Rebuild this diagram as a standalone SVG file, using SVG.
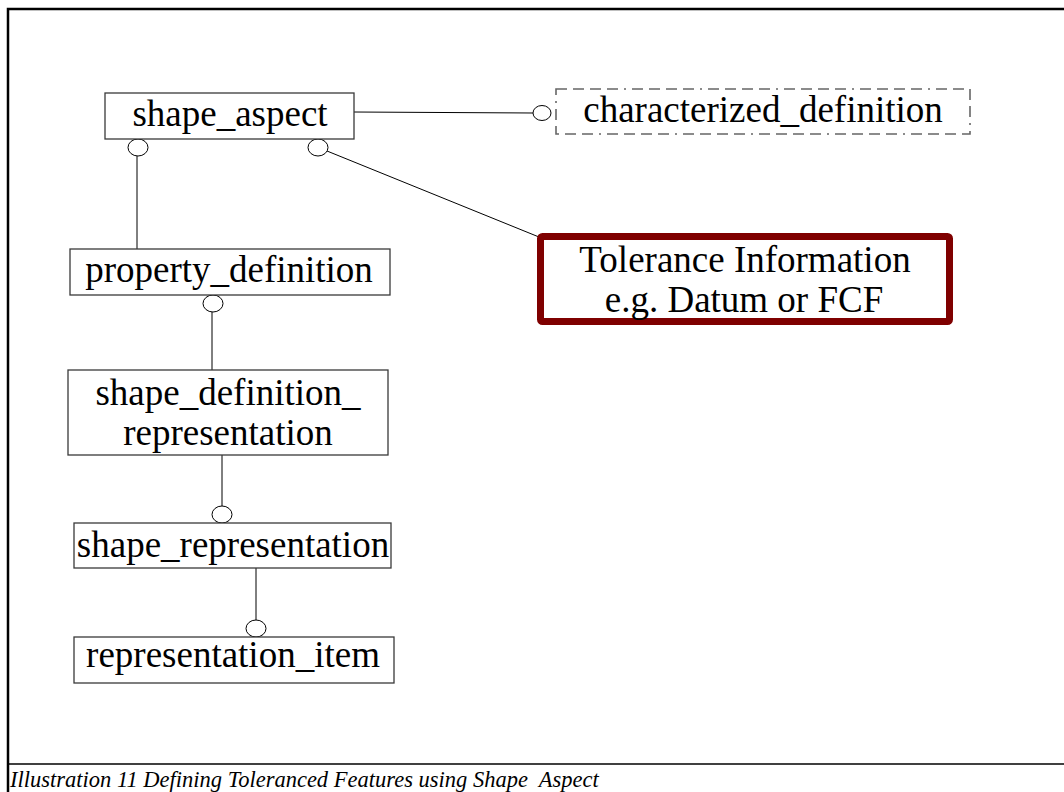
<svg xmlns="http://www.w3.org/2000/svg" width="1064" height="792" viewBox="0 0 1064 792">
<style>
.box{fill:#fff;stroke:#3a3a3a;stroke-width:1.3}
.dbox{fill:#fff;stroke:#666;stroke-width:1.6;stroke-dasharray:11 6 11 6 11 6 11 6 2 6}
.tol{fill:#fff;stroke:#7f0000;stroke-width:7}
.t{font-family:"Liberation Serif","Times New Roman",serif;font-size:37px;fill:#000;text-anchor:middle}
.c{fill:#fff;stroke:#000;stroke-width:1}
.ln{stroke:#000;stroke-width:1;fill:none}
.cap{font-family:"Liberation Serif","Times New Roman",serif;font-size:22.5px;font-style:italic;fill:#000}
</style>
<rect width="1064" height="792" fill="#fff"/>
<g id="frame">
<path d="M8 792 V9 H1064" fill="none" stroke="#000" stroke-width="2.5"/>
<line x1="8" y1="764" x2="1064" y2="764" stroke="#000" stroke-width="1.6"/>
</g>
<g id="connectors">
<line class="ln" x1="137" y1="156" x2="137" y2="249"/>
<line class="ln" x1="212" y1="312" x2="212" y2="370"/>
<line class="ln" x1="222" y1="455" x2="222" y2="506"/>
<line class="ln" x1="256" y1="568" x2="256" y2="620"/>
<line class="ln" x1="354" y1="112" x2="533" y2="113"/>
<line class="ln" x1="327" y1="151" x2="539" y2="237"/>
<ellipse class="c" cx="138" cy="147.5" rx="10" ry="8.5"/>
<ellipse class="c" cx="318" cy="147.5" rx="10" ry="8.5"/>
<ellipse class="c" cx="542" cy="113" rx="9" ry="7.5"/>
<ellipse class="c" cx="213" cy="303.5" rx="10" ry="8.5"/>
<ellipse class="c" cx="222" cy="514.5" rx="10" ry="8.5"/>
<ellipse class="c" cx="256" cy="628.5" rx="10" ry="8.5"/>
</g>
<g id="shape_aspect">
<rect class="box" x="105" y="93" width="249" height="46"/>
<text class="t" x="230" y="126">shape_aspect</text>
</g>
<g id="characterized_definition">
<rect class="dbox" x="556" y="89" width="414" height="45"/>
<text class="t" x="763" y="122">characterized_definition</text>
</g>
<g id="property_definition">
<rect class="box" x="70" y="249" width="320" height="46"/>
<text class="t" x="229" y="282">property_definition</text>
</g>
<g id="shape_definition_representation">
<rect class="box" x="68" y="370" width="320" height="85"/>
<text class="t" x="228" y="405">shape_definition_</text>
<text class="t" x="228" y="445">representation</text>
</g>
<g id="shape_representation">
<rect class="box" x="74" y="523" width="317" height="45"/>
<text class="t" x="233" y="557">shape_representation</text>
</g>
<g id="representation_item">
<rect class="box" x="74" y="637" width="320" height="46"/>
<text class="t" x="233" y="667">representation_item</text>
</g>
<g id="tolerance_information">
<rect class="tol" x="540.5" y="236.5" width="409" height="85" rx="2"/>
<text class="t" x="745" y="272">Tolerance Information</text>
<text class="t" x="744" y="312">e.g. Datum or FCF</text>
</g>
<g id="caption">
<text class="cap" x="10" y="787" xml:space="preserve">Illustration 11 Defining Toleranced Features using Shape  Aspect</text>
</g>
</svg>
